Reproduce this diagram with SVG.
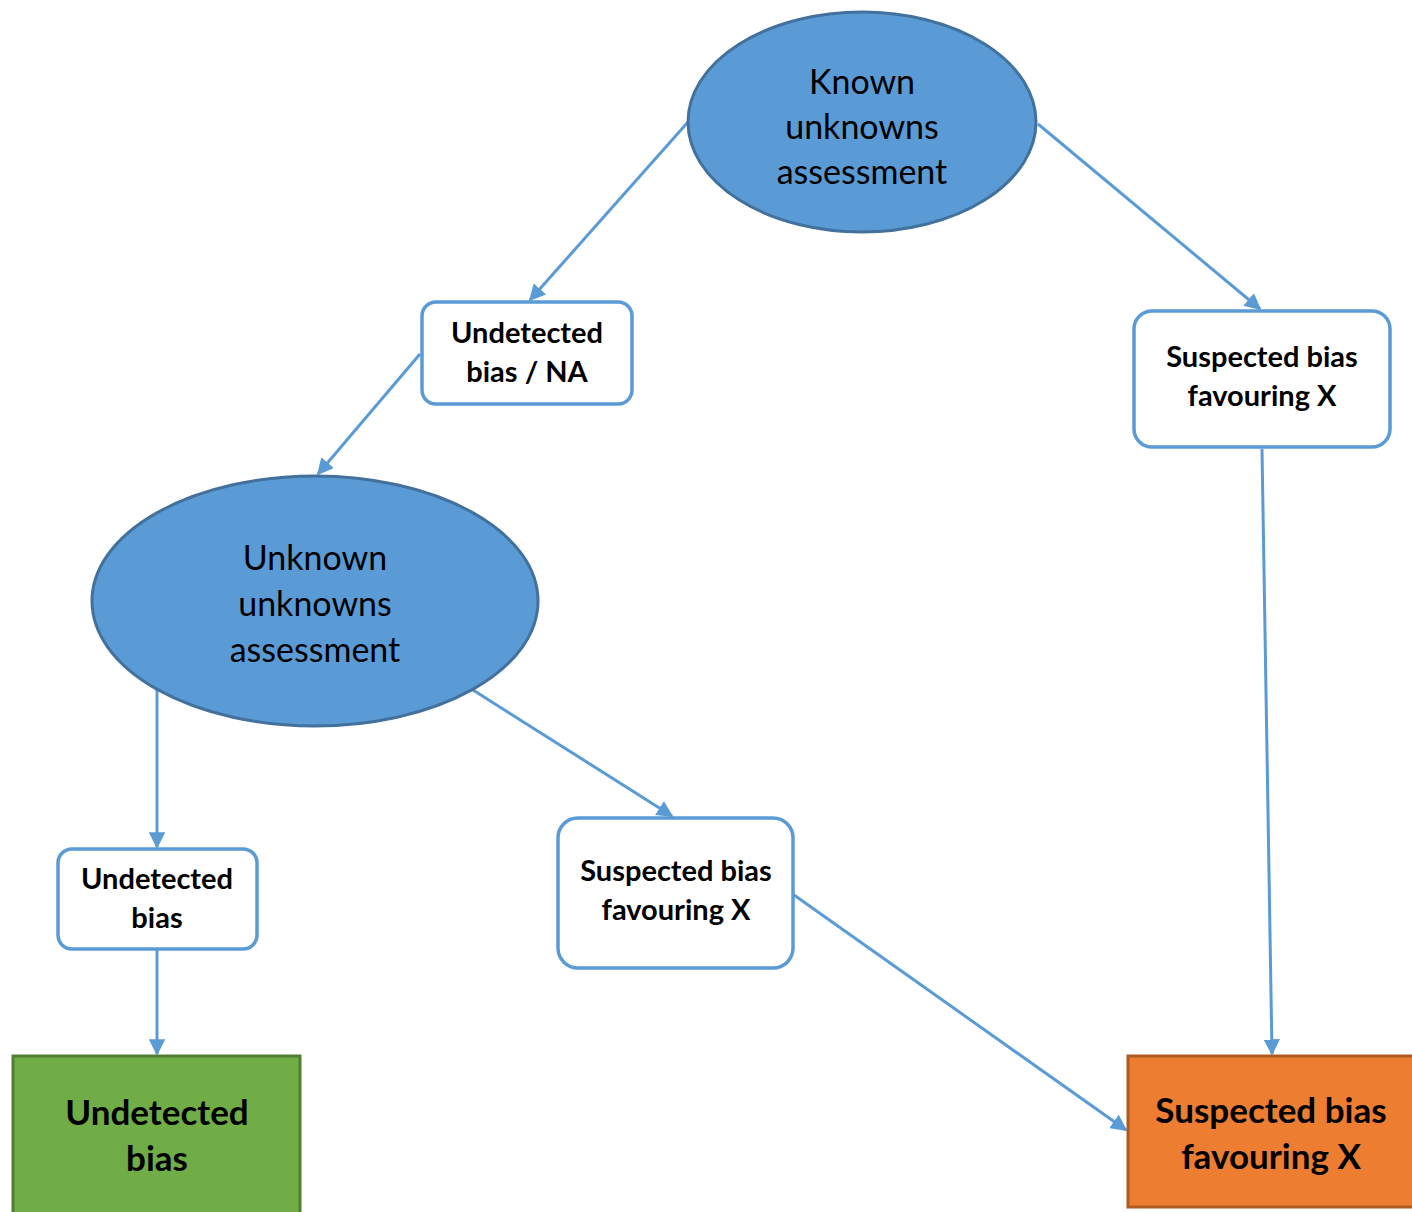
<svg xmlns="http://www.w3.org/2000/svg" width="1412" height="1212" viewBox="0 0 1412 1212">
<defs>
<marker id="arr" viewBox="0 0 10 10" refX="9" refY="5" markerWidth="5.5" markerHeight="5.5" orient="auto" markerUnits="strokeWidth">
<path d="M0,0 L10,5 L0,10 z" fill="#5B9BD5"/>
</marker>
<style>
.ell{fill:#5B9BD5;stroke:#41719C;stroke-width:3}
.box{fill:#fff;stroke:#5B9BD5;stroke-width:3.5}
.con{stroke:#5B9BD5;stroke-width:3;fill:none;marker-end:url(#arr)}
.t{font-family:Lato,"Open Sans","Liberation Sans",sans-serif;text-anchor:middle;fill:#000}
.et{font-size:34px}
.bt{font-size:29px;font-weight:bold}
.lt{font-size:35px;font-weight:bold}
</style>
</defs>
<g id="connectors">
<line class="con" x1="688" y1="122" x2="530" y2="300"/>
<line class="con" x1="1038" y1="124" x2="1260" y2="309"/>
<line class="con" x1="420" y1="354" x2="318" y2="474"/>
<line class="con" x1="157" y1="690" x2="157" y2="847"/>
<line class="con" x1="473" y1="690" x2="672" y2="816"/>
<line class="con" x1="157" y1="950" x2="157" y2="1054"/>
<line class="con" x1="1262" y1="449" x2="1272" y2="1054"/>
<line class="con" x1="794" y1="895" x2="1126" y2="1130"/>
</g>
<g id="known">
<ellipse class="ell" cx="862" cy="122" rx="174" ry="110"/>
<text class="t et" x="862" y="94">Known</text>
<text class="t et" x="862" y="139">unknowns</text>
<text class="t et" x="862" y="184">assessment</text>
</g>
<g id="unknown">
<ellipse class="ell" cx="315" cy="601" rx="223" ry="125"/>
<text class="t et" x="315" y="570">Unknown</text>
<text class="t et" x="315" y="616">unknowns</text>
<text class="t et" x="315" y="662">assessment</text>
</g>
<g id="undetNA">
<rect class="box" x="422" y="302" width="210" height="102" rx="14"/>
<text class="t bt" x="527" y="343">Undetected</text>
<text class="t bt" x="527" y="382">bias / NA</text>
</g>
<g id="suspRight">
<rect class="box" x="1134" y="311" width="256" height="136" rx="18"/>
<text class="t bt" x="1262" y="367">Suspected bias</text>
<text class="t bt" x="1262" y="406">favouring X</text>
</g>
<g id="undet">
<rect class="box" x="58" y="849" width="199" height="100" rx="14"/>
<text class="t bt" x="157" y="889">Undetected</text>
<text class="t bt" x="157" y="928">bias</text>
</g>
<g id="suspMid">
<rect class="box" x="558" y="818" width="235" height="150" rx="20"/>
<text class="t bt" x="676" y="881">Suspected bias</text>
<text class="t bt" x="676" y="920">favouring X</text>
</g>
<g id="greenOut">
<rect x="13" y="1056" width="287" height="160" fill="#70AD47" stroke="#507E32" stroke-width="3"/>
<text class="t lt" x="157" y="1125">Undetected</text>
<text class="t lt" x="157" y="1171">bias</text>
</g>
<g id="orangeOut">
<rect x="1128" y="1056" width="290" height="151" fill="#ED7D31" stroke="#AE5A21" stroke-width="3"/>
<text class="t lt" x="1271" y="1123">Suspected bias</text>
<text class="t lt" x="1271" y="1169">favouring X</text>
</g>
</svg>
